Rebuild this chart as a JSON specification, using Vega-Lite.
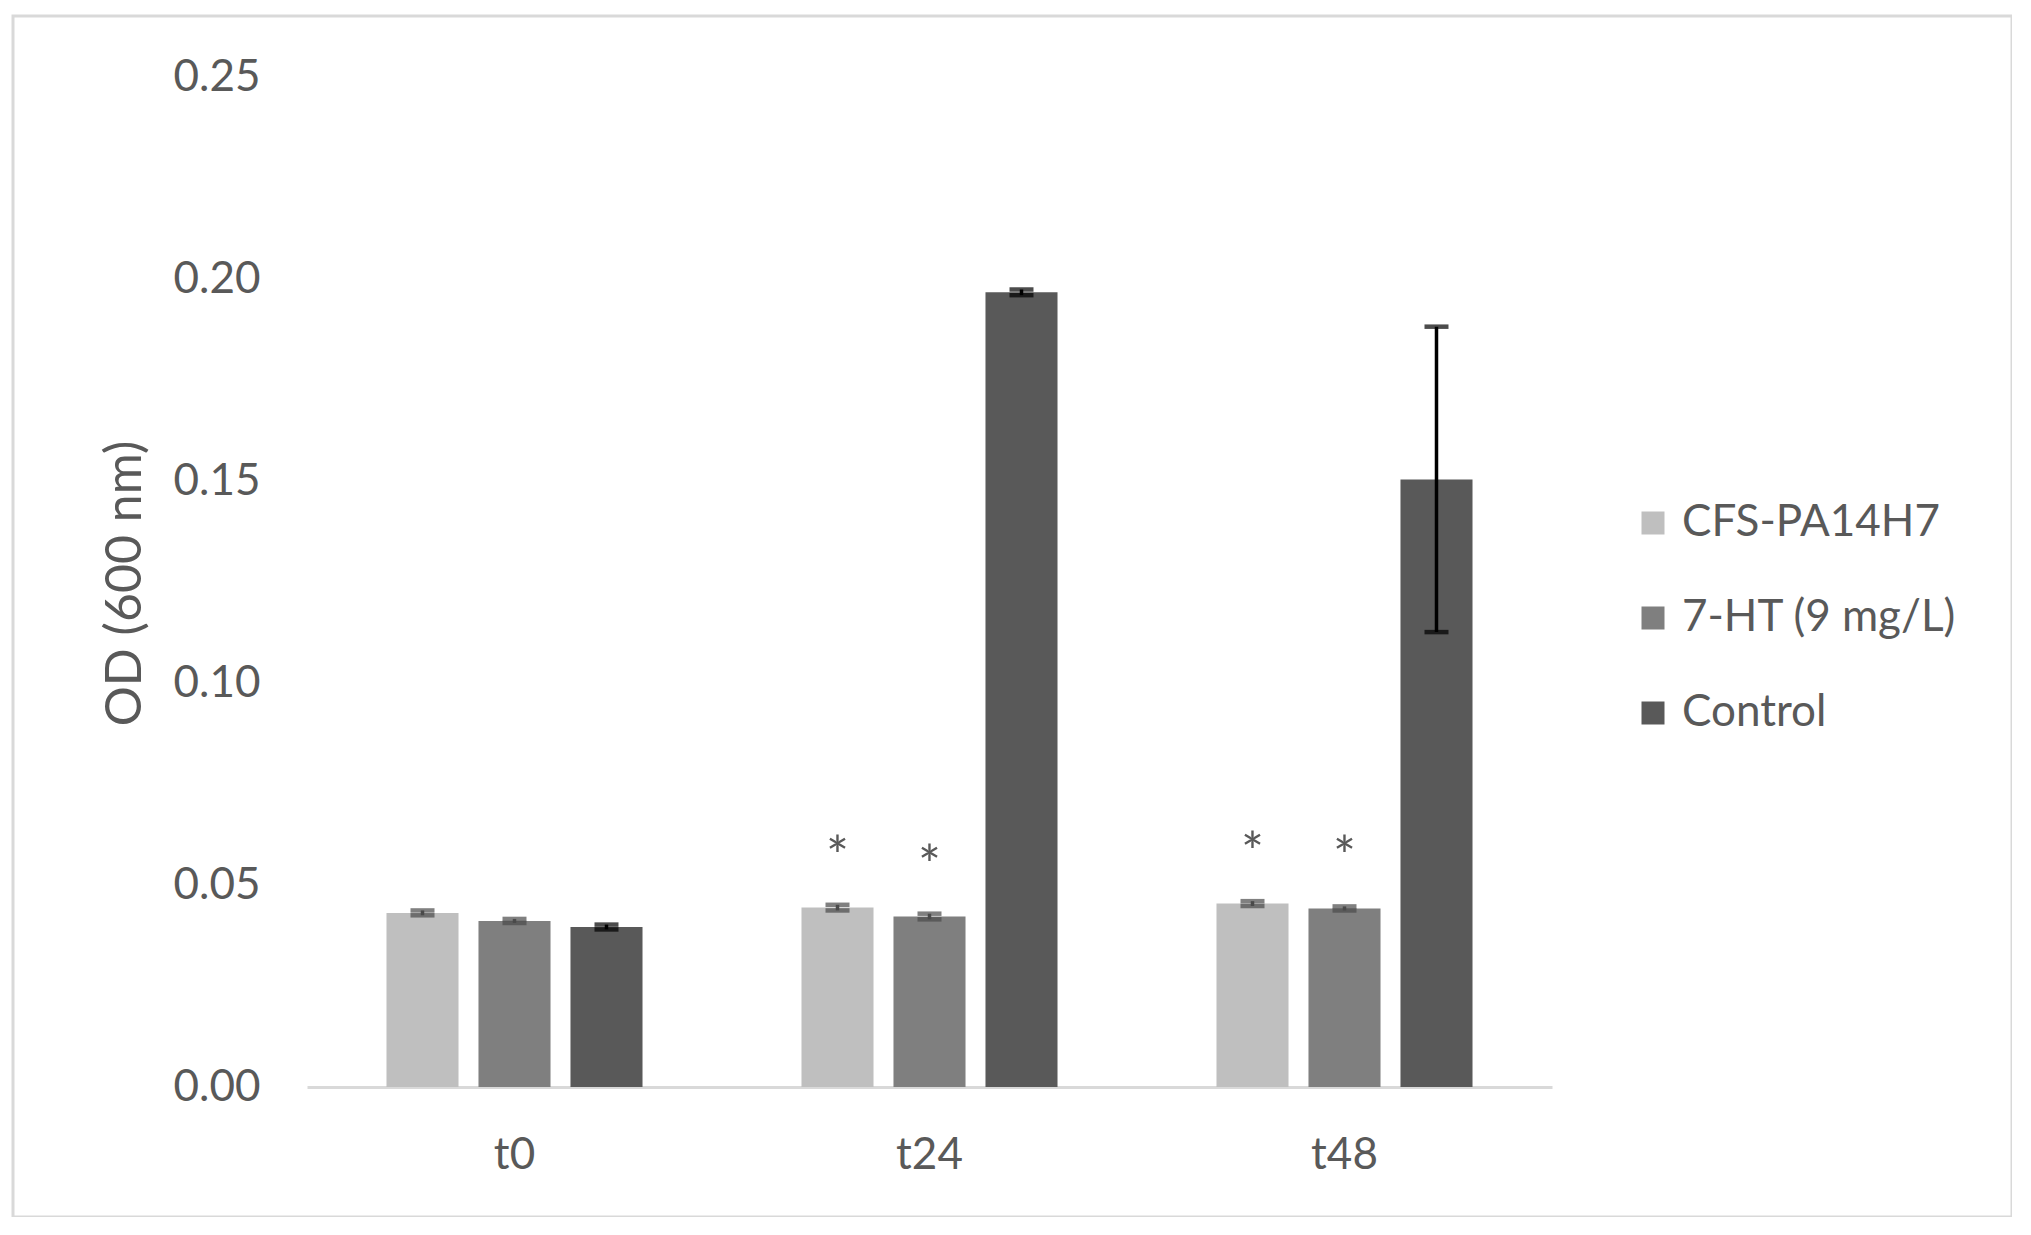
{
  "$schema": "https://vega.github.io/schema/vega-lite/v6.json",
  "width": 1999,
  "height": 1201,
  "autosize": {"type": "none"},
  "padding": {"left": 13, "top": 16, "right": 0, "bottom": 0},
  "background": "white",
  "config": {
    "view": {"stroke": "#D9D9D9", "strokeWidth": 3},
    "font": "Lato"
  },
  "data": {
    "values": [
      {"time": "t0", "series": "CFS-PA14H7", "value": 0.0431, "lo": 0.0425, "hi": 0.0437, "sig": ""},
      {"time": "t0", "series": "7-HT (9 mg/L)", "value": 0.0411, "lo": 0.0406, "hi": 0.0416, "sig": ""},
      {"time": "t0", "series": "Control", "value": 0.0396, "lo": 0.0390, "hi": 0.0402, "sig": ""},
      {"time": "t24", "series": "CFS-PA14H7", "value": 0.0444, "lo": 0.0437, "hi": 0.0451, "sig": "*"},
      {"time": "t24", "series": "7-HT (9 mg/L)", "value": 0.0422, "lo": 0.0415, "hi": 0.0429, "sig": "*"},
      {"time": "t24", "series": "Control", "value": 0.1967, "lo": 0.1960, "hi": 0.1974, "sig": ""},
      {"time": "t48", "series": "CFS-PA14H7", "value": 0.0454, "lo": 0.0448, "hi": 0.0460, "sig": "*"},
      {"time": "t48", "series": "7-HT (9 mg/L)", "value": 0.0442, "lo": 0.0437, "hi": 0.0447, "sig": "*"},
      {"time": "t48", "series": "Control", "value": 0.1504, "lo": 0.1126, "hi": 0.1882, "sig": ""}
    ]
  },
  "encoding": {
    "x": {
      "field": "time",
      "type": "nominal",
      "sort": ["t0", "t24", "t48"],
      "scale": {"range": [294, 1539], "paddingInner": 0, "paddingOuter": 0},
      "axis": {
        "title": null,
        "offset": -130,
        "domain": true,
        "domainColor": "#D9D9D9",
        "domainWidth": 3,
        "ticks": false,
        "grid": false,
        "labelAngle": 0,
        "labelPadding": 81,
        "labelBaseline": "alphabetic",
        "labelFontSize": 44,
        "labelColor": "#595959",
        "labelFont": "Lato"
      }
    },
    "xOffset": {
      "field": "series",
      "type": "nominal",
      "sort": ["CFS-PA14H7", "7-HT (9 mg/L)", "Control"],
      "scale": {"paddingInner": 0.217, "paddingOuter": 0.864}
    }
  },
  "layer": [
    {
      "mark": {"type": "bar"},
      "encoding": {
        "y": {
          "field": "value",
          "type": "quantitative",
          "title": "OD (600 nm)",
          "scale": {"domain": [0, 0.25], "range": [1071, 61], "nice": false, "zero": true},
          "axis": {
            "offset": -247,
            "domain": false,
            "ticks": false,
            "grid": false,
            "labelPadding": 0,
            "values": [0, 0.05, 0.1, 0.15, 0.2, 0.25],
            "format": ".2f",
            "labelFontSize": 44,
            "labelColor": "#595959",
            "labelFont": "Lato",
            "titleFont": "Lato",
            "titleFontSize": 50,
            "titleColor": "#595959",
            "titleFontWeight": "normal",
            "titleX": -135,
            "titleY": 567,
            "titleAngle": -90,
            "titleAlign": "center",
            "titleBaseline": "middle"
          }
        },
        "color": {
          "field": "series",
          "type": "nominal",
          "scale": {
            "domain": ["CFS-PA14H7", "7-HT (9 mg/L)", "Control"],
            "range": ["#BFBFBF", "#7F7F7F", "#595959"]
          },
          "legend": {
            "title": null,
            "orient": "none",
            "legendX": 1618,
            "legendY": 485,
            "symbolType": "square",
            "symbolSize": 529,
            "symbolStrokeWidth": 0,
            "labelFontSize": 44,
            "labelFont": "Lato",
            "labelColor": "#595959",
            "labelLimit": 0,
            "rowPadding": 51,
            "labelOffset": 7
          }
        }
      }
    },
    {
      "mark": {"type": "rule", "strokeWidth": 3.5},
      "encoding": {
        "y": {"field": "lo", "type": "quantitative", "title": "OD (600 nm)"},
        "y2": {"field": "hi"},
        "color": {"condition": {"test": "datum.series === 'Control'", "value": "#000000"}, "value": "#4A4A4A"}
      }
    },
    {
      "mark": {"type": "tick", "thickness": 4.5, "size": 24, "orient": "horizontal"},
      "encoding": {
        "y": {"field": "lo", "type": "quantitative", "title": "OD (600 nm)"},
        "color": {"condition": {"test": "datum.series === 'Control'", "value": "#000000"}, "value": "#4A4A4A"}
      }
    },
    {
      "mark": {"type": "tick", "thickness": 4.5, "size": 24, "orient": "horizontal"},
      "encoding": {
        "y": {"field": "hi", "type": "quantitative", "title": "OD (600 nm)"},
        "color": {"condition": {"test": "datum.series === 'Control'", "value": "#000000"}, "value": "#4A4A4A"}
      }
    },
    {
      "mark": {"type": "text", "baseline": "alphabetic", "dy": -33, "fontSize": 54, "font": "Lato", "color": "#595959"},
      "encoding": {
        "y": {"field": "value", "type": "quantitative", "title": "OD (600 nm)"},
        "text": {"field": "sig"}
      }
    }
  ]
}
